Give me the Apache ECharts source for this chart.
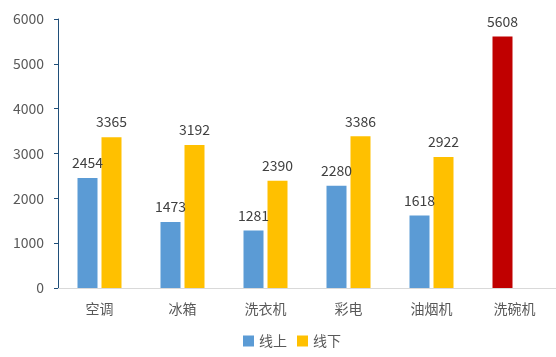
<!DOCTYPE html>
<html><head><meta charset="utf-8">
<script src="https://cdn.jsdelivr.net/npm/echarts@6/dist/echarts.min.js"></script>
<style>html,body{margin:0;padding:0;background:#fff}#c{width:556px;height:357px}</style>
</head><body><div id="c"></div>
<script>
var categories = ['空调','冰箱','洗衣机','彩电','油烟机','洗碗机'];
var online = [2454,1473,1281,2280,1618,5608];
var offline = [3365,3192,2390,3386,2922,null];
var yTicks = [0,1000,2000,3000,4000,5000,6000];
var highlightIndex = 5;

var chart = echarts.init(document.getElementById('c'));
var font = '"Microsoft YaHei","Noto Sans CJK SC",sans-serif';
chart.setOption({
  animation:false,
  grid:{left:58,right:0,top:19,bottom:69},
  legend:{bottom:4,left:238,itemWidth:11,itemHeight:11,itemGap:10,icon:'rect',
    textStyle:{color:'#595959',fontSize:14,fontFamily:font},data:['线上','线下']},
  xAxis:{type:'category',data:categories,
    axisLine:{lineStyle:{color:'#d9d9d9',width:1}},axisTick:{show:false},
    axisLabel:{color:'#595959',fontSize:14,margin:14,fontFamily:font}},
  yAxis:{type:'value',min:yTicks[0],max:yTicks[yTicks.length-1],interval:1000,
    axisLine:{show:true,lineStyle:{color:'#1f4e79'}},
    axisTick:{show:true,inside:false,length:4,lineStyle:{color:'#1f4e79'}},
    splitLine:{show:false},
    axisLabel:{color:'#595959',fontSize:14,margin:14,fontFamily:font,formatter:function(v){return String(v);}}},
  series:[
    {name:'线上',type:'bar',barWidth:20,barGap:'20%',
      itemStyle:{color:'#5b9bd5'},
      data:online.map(function(v,i){return i===highlightIndex?{value:v,itemStyle:{color:'#c00000'}}:v;}),
      label:{show:true,position:'top',distance:8,color:'#404040',fontSize:14,fontFamily:font}},
    {name:'线下',type:'bar',barWidth:20,
      itemStyle:{color:'#ffc000'},data:offline,
      label:{show:true,position:'top',distance:8,color:'#404040',fontSize:14,fontFamily:font}}
  ]
});
</script></body></html>
